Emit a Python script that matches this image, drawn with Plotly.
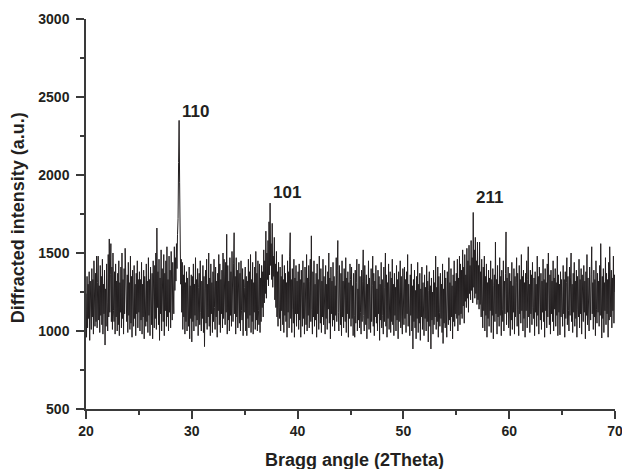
import numpy as np
import plotly.graph_objects as go

# scan grid: 20..70 deg, step 0.05
two_theta_start = 20.0
two_theta_step = 0.05

# intensity (a.u.), one list per 5 degrees
seg_20_25 = [1240, 960, 1350, 1020, 1300, 1080, 1380, 940, 1320, 1120,
             1010, 1400, 1090, 1330, 980, 1450, 1150, 1030, 1370, 1060,
             1480, 1020, 1310, 1480, 1070, 1290, 990, 1420, 1100, 1350,
             1040, 1460, 980, 1300, 1110, 1390, 910, 1270, 1030, 1430,
             1180, 1000, 1490, 1090, 1590, 1120, 1360, 1560, 1060, 1410,
             1010, 1500, 1130, 1060, 1380, 980, 1430, 1090, 1320, 1000,
             1370, 1040, 1450, 970, 1310, 1120, 1410, 1020, 1500, 1080,
             1330, 980, 1400, 1110, 1530, 1300, 1150, 1060, 1360, 990,
             1440, 1100, 1310, 1010, 1480, 1050, 1350, 960, 1390, 1140,
             1030, 1420, 1080, 1300, 970, 1370, 1110, 1450, 1020, 1330]
seg_25_30 = [1120, 1380, 1000, 1330, 1070, 1440, 980, 1300, 1090, 1390,
             950, 1350, 1140, 1030, 1430, 1060, 1320, 990, 1470, 1100,
             1330, 970, 1410, 1120, 1040, 1370, 950, 1450, 1160, 1020,
             1420, 1080, 1500, 1010, 1660, 1150, 1380, 1040, 1460, 940,
             1340, 1110, 1520, 1000, 1400, 1160, 1060, 1490, 970, 1370,
             1130, 1450, 1030, 1540, 1090, 1330, 1000, 1480, 1120, 1390,
             1020, 1510, 1160, 1070, 1440, 1200, 1110, 1540, 1260, 1470,
             1320, 1560, 1400, 1620, 1720, 2080, 2350, 1950, 1520, 1300,
             1460, 1120, 1440, 1010, 1360, 1090, 1420, 980, 1310, 1060,
             1380, 1000, 1340, 1120, 1030, 1410, 950, 1290, 1080, 1360]
seg_30_35 = [930, 1350, 1060, 1430, 1000, 1300, 1100, 1470, 1030, 1330,
             1070, 1400, 970, 1280, 1370, 1040, 1450, 1120, 1000, 1320,
             1080, 1420, 990, 1350, 900, 1270, 1390, 1050, 1460, 1010,
             1300, 1090, 1500, 1030, 1340, 970, 1430, 1110, 1310, 990,
             1380, 1060, 1460, 1150, 1010, 1410, 1090, 1320, 960, 1370,
             1130, 1490, 1040, 1430, 990, 1330, 1110, 1390, 1020, 1500,
             1080, 1460, 1160, 1040, 1440, 1120, 1620, 980, 1420, 1070,
             1320, 1000, 1470, 1100, 1380, 1030, 1510, 1140, 1060, 1430,
             1630, 1110, 1350, 980, 1470, 1090, 1390, 1020, 1310, 1440,
             1050, 1370, 1000, 1450, 1130, 1070, 1400, 970, 1330, 1120]
seg_35_40 = [1280, 1410, 1000, 1350, 970, 1320, 1080, 1460, 1020, 1380,
             1100, 1490, 990, 1330, 1060, 1440, 980, 1310, 1120, 1410,
             1010, 1510, 1070, 1370, 1000, 1450, 1130, 1040, 1430, 990,
             1340, 1060, 1420, 1150, 1380, 1090, 1520, 1180, 1450, 1240,
             1640, 1210, 1500, 1330, 1580, 1290, 1700, 1360, 1820, 1420,
             1560, 1330, 1690, 1280, 1480, 1350, 1600, 1200, 1430, 1150,
             1510, 1090, 1380, 1030, 1440, 1150, 1080, 1410, 1000, 1350,
             1130, 1490, 1040, 1330, 990, 1420, 1100, 1370, 1060, 1310,
             960, 1450, 1120, 1380, 1020, 1480, 1630, 1080, 1330, 990,
             1400, 1140, 1050, 1460, 960, 1340, 1110, 1420, 1030, 1320]
seg_40_45 = [1110, 1380, 1010, 1430, 1070, 1330, 960, 1390, 1130, 1030,
             1450, 1080, 1310, 980, 1410, 1120, 1040, 1490, 1000, 1340,
             1100, 1420, 1020, 1320, 1460, 1060, 1610, 1140, 980, 1380,
             1090, 1450, 1030, 1300, 1070, 1370, 960, 1430, 1110, 1330,
             1010, 1480, 1130, 1050, 1400, 990, 1320, 1090, 1460, 1040,
             1350, 1120, 980, 1420, 1080, 1300, 1010, 1380, 1140, 1500,
             1050, 1340, 950, 1410, 1110, 1320, 1030, 1440, 1070, 1350,
             1000, 1290, 1100, 1470, 1060, 1390, 1580, 1120, 1000, 1420,
             1160, 1040, 1370, 970, 1450, 1090, 1320, 1020, 1400, 1130,
             1060, 1470, 990, 1340, 1110, 1380, 960, 1310, 1080, 1430]
seg_45_50 = [1330, 1030, 1410, 1080, 1290, 970, 1370, 1100, 960, 1390,
             1050, 1310, 1460, 1000, 1270, 1070, 1430, 1020, 1350, 1120,
             980, 1390, 1060, 1320, 1520, 1100, 1000, 1420, 1140, 1040,
             1360, 950, 1300, 1080, 1450, 1010, 1340, 1110, 990, 1400,
             1060, 1290, 1480, 1030, 1370, 970, 1320, 1090, 1420, 1050,
             1270, 1000, 1390, 1110, 1350, 940, 1300, 1070, 1440, 1020,
             1330, 1100, 980, 1410, 1060, 1280, 1500, 1030, 1360, 960,
             1310, 1080, 1430, 1010, 1260, 1380, 990, 1340, 1060, 1460,
             1040, 1300, 970, 1370, 1100, 1280, 1000, 1420, 1070, 1330,
             950, 1380, 1060, 1270, 1450, 1020, 1350, 1090, 980, 1400]
seg_50_55 = [1280, 1040, 1410, 1080, 1330, 990, 1380, 1110, 1490, 1030,
             1300, 1070, 970, 1360, 1100, 1430, 1000, 1290, 885, 1330,
             1060, 1390, 1020, 1260, 950, 1350, 1080, 1440, 990, 1300,
             1050, 1370, 940, 1270, 1090, 1410, 1010, 1310, 1040, 970,
             1360, 1080, 1280, 1000, 1420, 1060, 1320, 930, 1260, 1380,
             1030, 1290, 885, 1340, 1070, 1250, 980, 1390, 1040, 1310,
             1090, 1480, 1010, 1280, 1060, 1410, 960, 1350, 1120, 1030,
             1370, 1080, 1300, 990, 1430, 920, 1270, 1050, 1390, 1020,
             1340, 1100, 960, 1380, 1120, 1040, 1470, 1070, 1310, 1000,
             1400, 1090, 1290, 950, 1360, 1060, 1450, 1030, 1320, 1110]
seg_55_60 = [1370, 1080, 1460, 1000, 1340, 1100, 1480, 1040, 1430, 1110,
             1390, 1080, 1520, 1160, 1410, 1050, 1490, 1190, 1360, 1150,
             1530, 1210, 1450, 1120, 1550, 1240, 1420, 1200, 1580, 1260,
             1470, 1180, 1760, 1280, 1520, 1210, 1600, 1240, 1450, 1170,
             1570, 1200, 1420, 1140, 1570, 1170, 1380, 1090, 1460, 1120,
             1020, 1410, 1130, 1480, 1000, 1350, 1100, 1430, 960, 1310,
             1080, 1390, 1030, 1340, 1130, 1450, 990, 1330, 1100, 1400,
             950, 1290, 1360, 1060, 1570, 1110, 1330, 980, 1420, 1090,
             1300, 1030, 1470, 1100, 1350, 970, 1390, 1140, 1060, 1450,
             1000, 1320, 1110, 1370, 1635, 1040, 1340, 1120, 1410, 1020]
seg_60_65 = [1090, 1370, 970, 1320, 1070, 1440, 1010, 1290, 1120, 1400,
             980, 1350, 1090, 1310, 1470, 1030, 1370, 1140, 970, 1420,
             1110, 1330, 1050, 1490, 1130, 1350, 1000, 1390, 1080, 1310,
             960, 1370, 1130, 1450, 1020, 1330, 1540, 1090, 1300, 990,
             1390, 1110, 1360, 1040, 1440, 1150, 1080, 1340, 970, 1380,
             1120, 1300, 1030, 1480, 1100, 1350, 980, 1410, 1140, 1070,
             1370, 1010, 1320, 1120, 1460, 1060, 1330, 960, 1400, 1130,
             1310, 1020, 1430, 1090, 1500, 1150, 1040, 1360, 980, 1390,
             1110, 1320, 1060, 1450, 1000, 1340, 1140, 1400, 1030, 1310,
             1100, 1480, 970, 1360, 1120, 1300, 975, 1380, 1090, 1330]
seg_65_70 = [1160, 1030, 1420, 1110, 1330, 960, 1380, 1080, 1310, 1470,
             1040, 1350, 1130, 1000, 1410, 1100, 1340, 1500, 1060, 1300,
             990, 1370, 1120, 1440, 1030, 1320, 1080, 1390, 960, 1350,
             1140, 1090, 1460, 1020, 1330, 1110, 1400, 980, 1360, 1150,
             1060, 1420, 1120, 1320, 950, 1380, 1100, 1490, 1040, 1340,
             1130, 1000, 1410, 1170, 1070, 1360, 1540, 1110, 1310, 1010,
             1390, 1090, 1330, 970, 1450, 1140, 1050, 1370, 1120, 1320,
             1030, 1420, 1100, 1560, 1150, 955, 1350, 1080, 1400, 990,
             1310, 1130, 1470, 1040, 1370, 1110, 1330, 960, 1440, 1070,
             1540, 1170, 1090, 1390, 1020, 1340, 1130, 1480, 1050, 1360,
             1250]

# peak labels (hkl) and where they sit
peak_labels = ["110", "101", "211"]
peak_label_x = [28.9, 37.45, 56.7]
peak_label_y = [2410, 1890, 1855]

intensity = (seg_20_25 + seg_25_30 + seg_30_35 + seg_35_40 + seg_40_45 +
             seg_45_50 + seg_50_55 + seg_55_60 + seg_60_65 + seg_65_70)
two_theta = np.round(two_theta_start + two_theta_step * np.arange(len(intensity)), 2)

FONT = "Liberation Sans, Arial, sans-serif"
INK = "#231f20"
AXC = "#3a3a3a"

fig = go.Figure()
fig.add_trace(go.Scatter(
    x=two_theta,
    y=intensity,
    mode="lines",
    line=dict(color=INK, width=1.0),
    showlegend=False,
))

for lab, lx, ly in zip(peak_labels, peak_label_x, peak_label_y):
    fig.add_annotation(x=lx, y=ly, text=f"<b>{lab}</b>", showarrow=False,
                       xanchor="left", yanchor="middle",
                       font=dict(family=FONT, size=17, color=INK))

# axis titles placed by hand
fig.add_annotation(xref="paper", yref="paper", x=0.508, y=-0.13,
                   text="<b>Bragg angle (2Theta)</b>", showarrow=False,
                   xanchor="center", yanchor="middle",
                   font=dict(family=FONT, size=18, color=INK))
fig.add_annotation(xref="paper", yref="paper", x=-0.128, y=0.49,
                   text="<b>Diffracted intensity (a.u.)</b>", showarrow=False,
                   textangle=-90, xanchor="center", yanchor="middle",
                   font=dict(family=FONT, size=18, color=INK))

axis_common = dict(
    showline=True, linecolor=AXC, linewidth=1.5, mirror=False,
    ticks="outside", ticklen=8, tickwidth=1.5, tickcolor=AXC,
    showgrid=False, zeroline=False, automargin=False,
    ticklabeloverflow="allow",
    tickfont=dict(family=FONT, size=14, color=INK),
)

fig.update_xaxes(
    range=[20, 70], tickvals=[20, 30, 40, 50, 60, 70],
    ticktext=["<b>%d</b>" % v for v in [20, 30, 40, 50, 60, 70]],
    minor=dict(tickvals=[25, 35, 45, 55, 65], ticks="outside", ticklen=4,
               tickwidth=1.5, tickcolor=AXC),
    **axis_common,
)
fig.update_yaxes(
    range=[500, 3000], tickvals=[500, 1000, 1500, 2000, 2500, 3000],
    ticktext=["<b>%d</b>" % v for v in [500, 1000, 1500, 2000, 2500, 3000]],
    minor=dict(tickvals=[750, 1250, 1750, 2250, 2750], ticks="outside", ticklen=4,
               tickwidth=1.5, tickcolor=AXC),
    ticklabelstandoff=4,
    **axis_common,
)

fig.update_layout(
    width=622, height=469,
    margin=dict(l=86, r=7, t=19, b=60),
    plot_bgcolor="white", paper_bgcolor="white",
)
# drop the browser's default 8px body margin so the figure sits at 0,0
fig.write_html("out.html", config={"displayModeBar": False},
               post_script="document.body.style.margin='0';")
